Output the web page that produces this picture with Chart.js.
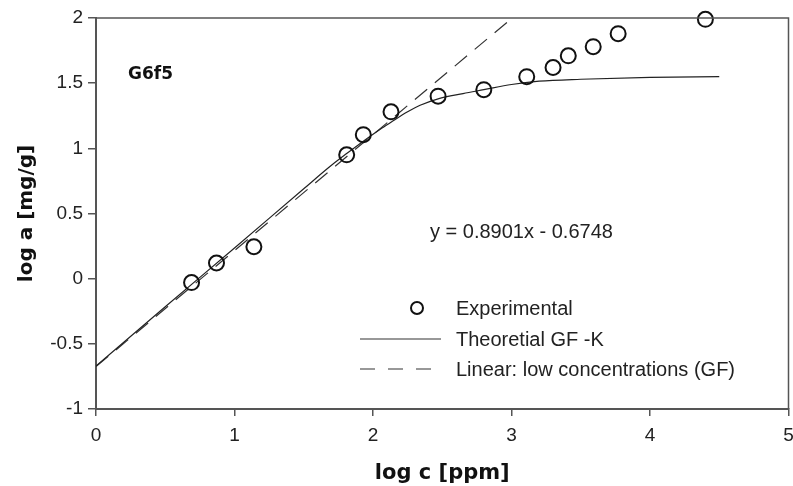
<!DOCTYPE html>
<html>
<head>
<meta charset="utf-8">
<script src="https://cdn.jsdelivr.net/npm/chart.js@4"></script>
<style>
  html, body { margin: 0; padding: 0; background: #fff; overflow: hidden; }
  #wrap { width: 793px; height: 486px; overflow: hidden; }
</style>
</head>
<body>
<div id="wrap"><canvas id="isoChart" width="798" height="486"></canvas></div>
<script>
// experimental points (log c, log a)
const expX = [0.69, 0.87, 1.14, 1.81, 1.93, 2.13, 2.47, 2.80, 3.11, 3.30, 3.41, 3.59, 3.77, 4.40];
const expY = [-0.03, 0.12, 0.245, 0.95, 1.105, 1.28, 1.40, 1.45, 1.55, 1.62, 1.71, 1.78, 1.88, 1.99];

// theoretical GF-K curve
const theoX = [0, 0.5, 1.0, 1.5, 1.7, 1.81, 1.93, 2.05, 2.13, 2.25, 2.34, 2.47, 2.65, 2.80, 3.0, 3.2, 3.5, 4.0, 4.5];
const theoY = [-0.67, -0.215, 0.235, 0.69, 0.87, 0.96, 1.055, 1.145, 1.20, 1.28, 1.33, 1.38, 1.42, 1.45, 1.49, 1.515, 1.53, 1.545, 1.55];

// linear fit for low concentrations: y = 0.8901x - 0.6748
const linX = [0, 3.005];
const linY = [-0.6748, 2.0];

const xTicks = [0, 1, 2, 3, 4, 5];
const yTicks = [-1, -0.5, 0, 0.5, 1, 1.5, 2];

const legendItems = ['Experimental', 'Theoretial GF -K', 'Linear: low concentrations (GF)'];

const pts = (xs, ys) => xs.map((x, i) => ({x: x, y: ys[i]}));

// frame, labels and legend inside the plot
const extras = {
  id: 'extras',
  afterDraw(chart) {
    const ctx = chart.ctx;
    const a = chart.chartArea;
    ctx.save();
    ctx.strokeStyle = '#555';
    ctx.lineWidth = 1.5;
    ctx.beginPath();
    ctx.moveTo(a.left, a.top);
    ctx.lineTo(a.right, a.top);
    ctx.lineTo(a.right, a.bottom);
    ctx.stroke();

    ctx.fillStyle = '#111';
    ctx.font = 'bold 17px "DejaVu Sans"';
    ctx.textBaseline = 'middle';
    ctx.fillText('G6f5', 128, 75);

    ctx.fillStyle = '#222';
    ctx.font = '20px "Liberation Sans", Arial';
    ctx.fillText('y = 0.8901x - 0.6748', 430, 232);

    // legend
    const rows = [309, 340, 370];
    legendItems.forEach((t, i) => ctx.fillText(t, 456, rows[i]));
    ctx.strokeStyle = '#111';
    ctx.lineWidth = 2;
    ctx.beginPath();
    ctx.arc(417, rows[0] - 1, 6, 0, Math.PI * 2);
    ctx.stroke();
    ctx.strokeStyle = '#333';
    ctx.lineWidth = 1.2;
    ctx.beginPath();
    ctx.moveTo(360, rows[1] - 1);
    ctx.lineTo(441, rows[1] - 1);
    ctx.stroke();
    ctx.setLineDash([15, 13]);
    ctx.beginPath();
    ctx.moveTo(360, rows[2] - 1);
    ctx.lineTo(441, rows[2] - 1);
    ctx.stroke();
    ctx.restore();
  }
};

const config = {
  type: 'scatter',
  data: {
    datasets: [{
      label: 'Linear: low concentrations (GF)',
      type: 'line',
      data: pts(linX, linY),
      borderColor: '#333',
      borderWidth: 1.2,
      borderDash: [16, 10],
      pointRadius: 0,
      fill: false,
      order: 3
    }, {
      label: 'Theoretial GF -K',
      type: 'line',
      data: pts(theoX, theoY),
      borderColor: '#222',
      borderWidth: 1.2,
      pointRadius: 0,
      cubicInterpolationMode: 'monotone',
      fill: false,
      order: 2
    }, {
      label: 'Experimental',
      data: pts(expX, expY),
      pointRadius: 7.5,
      pointBorderWidth: 2,
      pointBorderColor: '#111',
      pointBackgroundColor: 'rgba(255,255,255,0)',
      clip: false,
      order: 1
    }]
  },
  options: {
    responsive: false,
    animation: false,
    layout: { padding: { top: 18, right: 0, left: 0, bottom: 0 } },
    plugins: { legend: { display: false }, tooltip: { enabled: false } },
    scales: {
      x: {
        type: 'linear',
        min: 0, max: 5,
        afterBuildTicks: s => { s.ticks = xTicks.map(v => ({value: v})); },
        afterFit: s => { s.height = 77; s.paddingRight = 0; },
        grid: { display: true, drawOnChartArea: false, tickLength: 7, color: '#555', lineWidth: 1.5 },
        border: { color: '#555', width: 2 },
        ticks: { color: '#222', padding: 8, font: { family: '"Liberation Sans", Arial', size: 19 },
                 callback: v => String(v) },
        title: { display: true, text: 'log c [ppm]', color: '#111', padding: { top: 0, bottom: 0 },
                 font: { family: '"DejaVu Sans"', weight: 'bold', size: 21 } }
      },
      y: {
        type: 'linear',
        min: -1, max: 2,
        afterBuildTicks: s => { s.ticks = yTicks.map(v => ({value: v})); },
        afterFit: s => { s.width = 96; },
        grid: { display: true, drawOnChartArea: false, tickLength: 8, color: '#555', lineWidth: 1.5 },
        border: { color: '#555', width: 2 },
        ticks: { color: '#222', padding: 5, font: { family: '"Liberation Sans", Arial', size: 19 },
                 callback: v => String(v) },
        title: { display: true, text: 'log a [mg/g]', color: '#111', padding: { top: 15, bottom: 0 },
                 font: { family: '"DejaVu Sans"', weight: 'bold', size: 20 } }
      }
    }
  },
  plugins: [extras]
};

const isoChart = new Chart(document.getElementById('isoChart'), config);
</script>
</body>
</html>
